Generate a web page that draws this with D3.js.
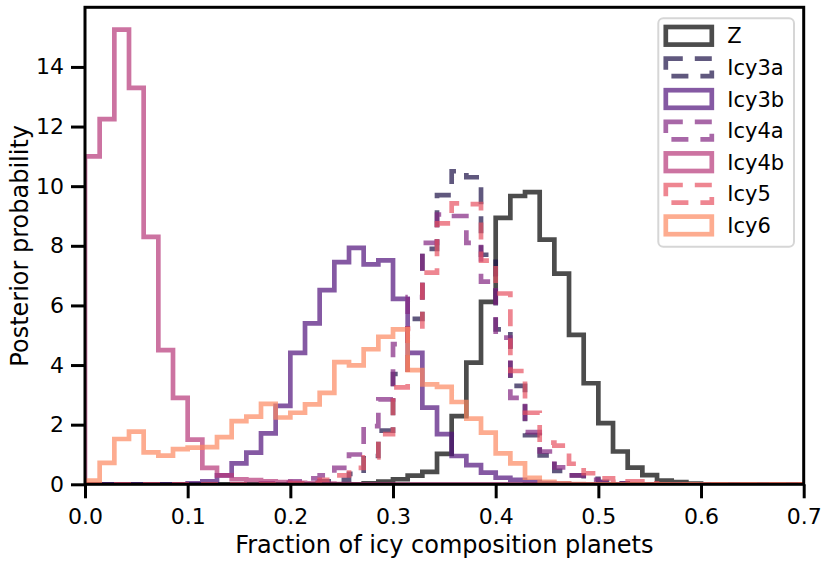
<!DOCTYPE html>
<html>
<head>
<meta charset="utf-8">
<script src="https://cdn.jsdelivr.net/npm/d3@7"></script>
<style>
body { margin: 0; background: #fff; }
</style>
</head>
<body>
<div id="chart"></div>
<script>
// 49 bins spread over [0, 0.7]
const binCount = 49;
const xMax = 0.7;
const yMax = 16;

const seriesNames = ["Z", "Icy3a", "Icy3b", "Icy4a", "Icy4b", "Icy5", "Icy6"];
const dashedSeries = ["Icy3a", "Icy4a", "Icy5"];

const zVals = [
    0, 0, 0, 0, 0, 0, 0, 0, 0, 0,
    0, 0, 0, 0, 0, 0, 0, 0, 0, 0.03,
    0.09, 0.17, 0.29, 0.42, 1.02, 2.29, 4.08, 6.12, 8.94, 9.67,
    9.80, 8.21, 7.07, 5.01, 3.39, 2.05, 1.10, 0.56, 0.31, 0.12,
    0.07, 0.02, 0, 0, 0, 0, 0, 0, 0];
const icy3aVals = [
    0, 0, 0, 0, 0, 0, 0, 0, 0, 0,
    0, 0, 0, 0, 0.02, 0.05, 0.1, 0.15, 0.35, 0.95,
    1.8, 3.7, 5.55, 7.9, 9.7, 10.5, 10.3, 7.7, 5.2, 3.3,
    1.65, 0.97, 0.45, 0.3, 0.18, 0.08, 0.03, 0, 0, 0,
    0, 0, 0, 0, 0, 0, 0, 0, 0];
const icy3bVals = [
    0, 0, 0, 0, 0, 0, 0, 0.03, 0.1, 0.3,
    0.7, 1.06, 1.71, 2.63, 4.41, 5.40, 6.51, 7.45, 7.93, 7.38,
    7.51, 6.22, 4.41, 2.57, 1.68, 0.95, 0.64, 0.39, 0.22, 0.15,
    0.08, 0.04, 0.02, 0, 0, 0, 0, 0, 0, 0,
    0, 0, 0, 0, 0, 0, 0, 0, 0];
const icy4aVals = [
    0, 0, 0, 0, 0, 0, 0, 0, 0, 0,
    0, 0, 0.03, 0.05, 0.1, 0.2, 0.3, 0.55, 1.0, 1.95,
    2.85, 4.7, 6.28, 8.1, 9.05, 9.0, 8.1, 6.8, 4.92, 2.9,
    1.75, 1.1, 0.57, 0.3, 0.15, 0.06, 0.02, 0, 0, 0,
    0, 0, 0, 0, 0, 0, 0, 0, 0];
const icy4bVals = [
    11.0, 12.25, 15.25, 13.3, 8.3, 4.5, 2.9, 1.5, 0.55, 0.3,
    0.17, 0.14, 0.1, 0.07, 0.05, 0.03, 0.02, 0.01, 0, 0,
    0, 0, 0, 0, 0, 0, 0, 0, 0, 0,
    0, 0, 0, 0, 0, 0, 0, 0, 0, 0,
    0, 0, 0, 0, 0, 0, 0, 0, 0];
const icy5Vals = [
    0, 0, 0, 0, 0, 0, 0, 0, 0, 0,
    0, 0, 0, 0, 0.02, 0.05, 0.15, 0.3, 0.55, 0.9,
    1.68, 3.25, 5.22, 7.1, 8.75, 9.42, 9.4, 7.5, 6.4, 3.8,
    2.4, 1.4, 1.3, 0.69, 0.37, 0.2, 0.08, 0.1, 0.03, 0,
    0, 0, 0, 0, 0, 0, 0, 0, 0];
const icy6Vals = [
    0.12, 0.72, 1.52, 1.77, 1.07, 0.96, 1.18, 1.23, 1.25, 1.58,
    2.12, 2.27, 2.70, 2.24, 2.40, 2.68, 3.07, 4.10, 3.99, 4.53,
    4.95, 5.20, 3.83, 3.35, 3.27, 2.76, 2.20, 1.73, 1.04, 0.70,
    0.22, 0.08, 0.03, 0.01, 0, 0, 0, 0, 0, 0,
    0, 0, 0, 0, 0, 0, 0, 0, 0];

const xTicks = [0, 0.1, 0.2, 0.3, 0.4, 0.5, 0.6, 0.7];
const yTicks = [0, 2, 4, 6, 8, 10, 12, 14];

const allVals = [zVals, icy3aVals, icy3bVals, icy4aVals, icy4bVals, icy5Vals, icy6Vals];
const edges = d3.range(binCount + 1).map(i => i * xMax / binCount);

// colours: black for Z, then the first six of a 7-step magma palette
const colors = ["#000000"].concat(d3.range(1, 7).map(i => d3.interpolateMagma(i / 8)));

const margin = { top: 7.3, left: 85 },
    width = 718.7,
    height = 477;
const font = "DejaVu Sans, sans-serif";
const lw = 4.7;
const dash = "17,12";

const svg = d3.select("#chart")
    .append("svg")
    .attr("width", 831)
    .attr("height", 564)
    .style("background-color", "#fff");

const g = svg.append("g")
    .attr("transform", `translate(${margin.left},${margin.top})`);

const x = d3.scaleLinear().domain([0, xMax]).range([0, width]);
const y = d3.scaleLinear().domain([0, yMax]).range([height, 0]);

g.append("clipPath").attr("id", "plot-clip")
    .append("rect")
    .attr("width", width)
    .attr("height", height);

const stepLine = d3.line().x(d => x(d[0])).y(d => y(d[1]));

function stepPoints(vals) {
    const pts = [[edges[0], 0]];
    vals.forEach((v, i) => {
        pts.push([edges[i], v]);
        pts.push([edges[i + 1], v]);
    });
    pts.push([edges[binCount], 0]);
    return pts;
}

const hist = g.append("g").attr("clip-path", "url(#plot-clip)");
seriesNames.forEach((name, i) => {
    hist.append("path")
        .attr("d", stepLine(stepPoints(allVals[i])))
        .attr("fill", "none")
        .attr("stroke", colors[i])
        .attr("stroke-opacity", 0.7)
        .attr("stroke-width", lw)
        .attr("stroke-linejoin", "miter")
        .attr("stroke-dasharray", dashedSeries.includes(name) ? dash : null);
});

// axes
const xAxis = g.append("g")
    .attr("transform", `translate(0,${height})`)
    .call(d3.axisBottom(x).tickValues(xTicks).tickFormat(d3.format(".1f")).tickSize(14).tickPadding(10));
const yAxis = g.append("g")
    .call(d3.axisLeft(y).tickValues(yTicks).tickFormat(d3.format("d")).tickSize(14).tickPadding(7));

[xAxis, yAxis].forEach(a => {
    a.select(".domain").remove();
    a.attr("font-family", font).attr("font-size", 22);
    a.selectAll(".tick line").attr("stroke", "#000").attr("stroke-width", 3);
    a.selectAll(".tick text").attr("fill", "#000");
});

// frame
g.append("rect")
    .attr("width", width)
    .attr("height", height)
    .attr("fill", "none")
    .attr("stroke", "#000")
    .attr("stroke-width", 3);

// axis labels
svg.append("text")
    .attr("x", margin.left + width / 2)
    .attr("y", 553)
    .attr("text-anchor", "middle")
    .attr("font-family", font)
    .attr("font-size", 24)
    .text("Fraction of icy composition planets");

svg.append("text")
    .attr("transform", "rotate(-90)")
    .attr("x", -(margin.top + height / 2))
    .attr("y", 28)
    .attr("text-anchor", "middle")
    .attr("font-family", font)
    .attr("font-size", 24)
    .text("Posterior probability");

// legend
const legend = svg.append("g").attr("transform", "translate(658.3,18.3)");
legend.append("rect")
    .attr("width", 135.7)
    .attr("height", 228.4)
    .attr("rx", 5)
    .attr("fill", "#fff")
    .attr("fill-opacity", 0.8)
    .attr("stroke", "#d6d6d6")
    .attr("stroke-width", 2);

seriesNames.forEach((name, i) => {
    const cy = 17.5 + i * 31.6;
    legend.append("rect")
        .attr("x", 7.5)
        .attr("y", cy - 8.8)
        .attr("width", 46)
        .attr("height", 17.6)
        .attr("fill", "none")
        .attr("stroke", colors[i])
        .attr("stroke-opacity", 0.7)
        .attr("stroke-width", lw)
        .attr("stroke-dasharray", dashedSeries.includes(name) ? dash : null);
    legend.append("text")
        .attr("x", 69)
        .attr("y", cy)
        .attr("dy", "0.36em")
        .attr("font-family", font)
        .attr("font-size", 21)
        .text(name);
});
</script>
</body>
</html>
